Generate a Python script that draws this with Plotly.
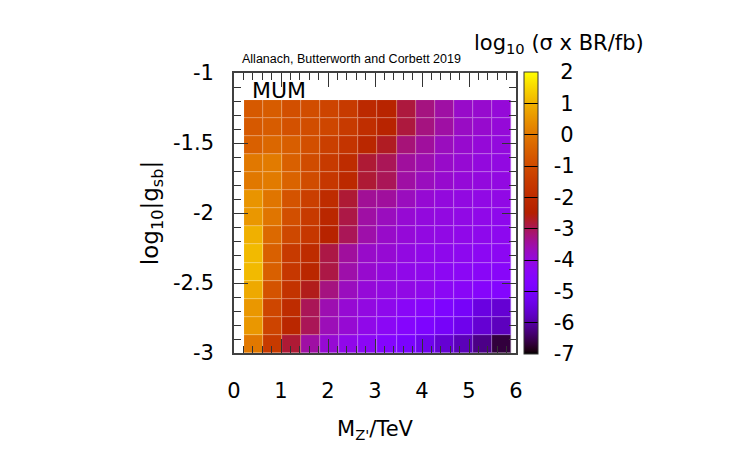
import numpy as np
import plotly.graph_objects as go

# ---- data ----
mass_tev = [0.42, 0.83, 1.23, 1.64, 2.04, 2.45, 2.85, 3.26, 3.66, 4.07, 4.47, 4.88, 5.28, 5.69]
log_gsb = [-2.935, -2.806, -2.677, -2.548, -2.419, -2.290, -2.161,
           -2.032, -1.903, -1.774, -1.645, -1.516, -1.387, -1.258]

# log10(sigma x BR / fb), rows from bottom (log_gsb=-2.935) to top
log_sigma_br = [
    [0.00, -1.50, -2.80, -3.50, -3.90, -4.15, -4.35, -4.60, -4.90, -5.30, -5.60, -5.85, -6.20, -6.65],
    [0.55, -1.20, -2.20, -3.00, -3.65, -3.90, -4.15, -4.35, -4.55, -4.80, -5.05, -5.30, -5.60, -5.80],
    [0.55, -1.15, -2.00, -3.00, -3.60, -3.90, -4.05, -4.20, -4.40, -4.50, -4.80, -5.05, -5.45, -5.60],
    [0.85, -0.80, -1.75, -2.65, -3.25, -3.70, -3.95, -4.05, -4.10, -4.20, -4.35, -4.40, -4.50, -4.60],
    [1.10, -0.50, -1.60, -2.20, -2.90, -3.55, -3.85, -4.00, -4.15, -4.20, -4.30, -4.35, -4.40, -4.45],
    [1.10, -0.50, -1.50, -2.00, -2.90, -3.45, -3.80, -3.90, -4.05, -4.15, -4.20, -4.25, -4.30, -4.30],
    [0.95, -0.30, -1.10, -1.60, -2.35, -3.00, -3.55, -3.80, -3.95, -4.05, -4.10, -4.15, -4.20, -4.25],
    [0.55, -0.05, -0.90, -1.50, -2.20, -2.90, -3.50, -3.70, -3.90, -4.00, -4.05, -4.10, -4.15, -4.20],
    [0.50, -0.05, -0.80, -1.35, -2.00, -2.80, -3.40, -3.45, -3.70, -3.90, -4.00, -4.05, -4.10, -4.10],
    [0.00, 0.05, -0.45, -1.00, -1.60, -2.10, -2.80, -3.00, -3.50, -3.70, -3.85, -3.95, -4.00, -4.05],
    [0.00, 0.05, -0.50, -1.00, -1.50, -2.00, -2.80, -3.00, -3.45, -3.60, -3.80, -3.90, -4.00, -4.05],
    [-0.50, -0.35, -0.55, -0.90, -1.35, -1.70, -2.20, -2.70, -3.20, -3.45, -3.70, -3.85, -3.95, -4.00],
    [-0.65, -0.60, -0.85, -0.95, -1.15, -1.50, -1.90, -2.30, -2.85, -3.25, -3.50, -3.75, -3.85, -3.95],
    [-0.65, -0.60, -0.90, -0.95, -1.20, -1.50, -2.10, -2.30, -2.85, -3.25, -3.50, -3.80, -3.85, -3.95],
]

y_tick_vals = [-3, -2.5, -2, -1.5, -1]
cbar_tick_vals = [-7, -6, -5, -4, -3, -2, -1, 0, 1, 2]
z_min, z_max = -7, 2


# ---- gnuplot default pm3d palette (rgbformulae 7,5,15) ----
def palette(mix_white=0.0):
    out = []
    for s in np.linspace(0, 1, 91):
        rgb = np.array([np.sqrt(s), s ** 3, min(max(np.sin(2 * np.pi * s), 0.0), 1.0)])
        rgb = rgb * (1 - mix_white) + mix_white
        out.append([float(s), "rgb(%d,%d,%d)" % tuple(int(round(255 * c)) for c in rgb)])
    return out


def fmt(v):
    return "%g" % v


cbar_text = []
for v in cbar_tick_vals:
    t = fmt(v)
    if v >= 0:
        t = "\u2008" + t
    cbar_text.append("\u2002" + t)

font_main = "DejaVu Sans"

fig = go.Figure()
# lighter underlay: shows through the cell gaps as faint grid lines
fig.add_trace(go.Heatmap(
    x=mass_tev, y=log_gsb, z=log_sigma_br,
    zmin=z_min, zmax=z_max, colorscale=palette(0.4),
    showscale=False, hoverinfo="skip",
))
fig.add_trace(go.Heatmap(
    x=mass_tev, y=log_gsb, z=log_sigma_br,
    zmin=z_min, zmax=z_max,
    colorscale=palette(0.0),
    xgap=1, ygap=1,
    colorbar=dict(
        x=1.028, xanchor="left", xpad=0,
        y=0.5, yanchor="middle", len=1.007, lenmode="fraction", ypad=0,
        thickness=14,
        outlinewidth=1, outlinecolor="#333333",
        ticks="inside", ticklen=14, tickwidth=1.2, tickcolor="black",
        tickvals=cbar_tick_vals, ticktext=cbar_text,
        tickfont=dict(family=font_main, size=21, color="black"),
    ),
    hoverinfo="skip",
))

fig.update_layout(
    width=750, height=450,
    margin=dict(l=234, r=234, t=73, b=97),
    paper_bgcolor="white", plot_bgcolor="white",
    font=dict(family=font_main, color="black"),
    xaxis=dict(
        range=[0, 6], dtick=1, tick0=0,
        ticks="inside", ticklen=14, tickwidth=1.2, tickcolor="#333333",
        minor=dict(ticks="inside", ticklen=7, dtick=0.2, tickwidth=1.2, tickcolor="#333333", showgrid=False),
        mirror="allticks", showline=True, linecolor="#404040", linewidth=1.6,
        showgrid=False, zeroline=False,
        tickfont=dict(family=font_main, size=21, color="black"),
        ticklabelstandoff=18,
        title=dict(text="M<sub>Z'</sub>/TeV", font=dict(family=font_main, size=21, color="black"), standoff=19),
    ),
    yaxis=dict(
        range=[-3, -1],
        tickvals=y_tick_vals, ticktext=[fmt(v) for v in y_tick_vals],
        ticks="inside", ticklen=14, tickwidth=1.2, tickcolor="#333333",
        minor=dict(ticks="inside", ticklen=7, dtick=0.1, tick0=-3, tickwidth=1.2, tickcolor="#333333", showgrid=False),
        mirror="allticks", showline=True, linecolor="#404040", linewidth=1.6,
        showgrid=False, zeroline=False,
        tickfont=dict(family=font_main, size=21, color="black"),
        ticklabelstandoff=14,
        title=dict(text="log<sub>10</sub>|g<sub>sb</sub>|", font=dict(family=font_main, size=23, color="black"), standoff=8),
    ),
    annotations=[
        dict(text="log<sub>10</sub> (σ x BR/fb)", xref="paper", yref="paper",
             x=(559 - 234) / 282, y=(353 - 44) / 280, xanchor="center", yanchor="middle",
             showarrow=False, font=dict(family=font_main, size=21, color="black")),
        dict(text="Allanach, Butterworth and Corbett 2019", xref="paper", yref="paper",
             x=(240 - 234) / 282, y=(353 - 59) / 280, xanchor="left", yanchor="middle",
             showarrow=False, font=dict(family="Liberation Sans", size=12.5, color="black")),
        dict(text="MUM", xref="paper", yref="paper",
             x=(250 - 234) / 282, y=(353 - 90.5) / 280, xanchor="left", yanchor="middle",
             showarrow=False, font=dict(family=font_main, size=22, color="black")),
    ],
)

fig.write_html("out.html")
